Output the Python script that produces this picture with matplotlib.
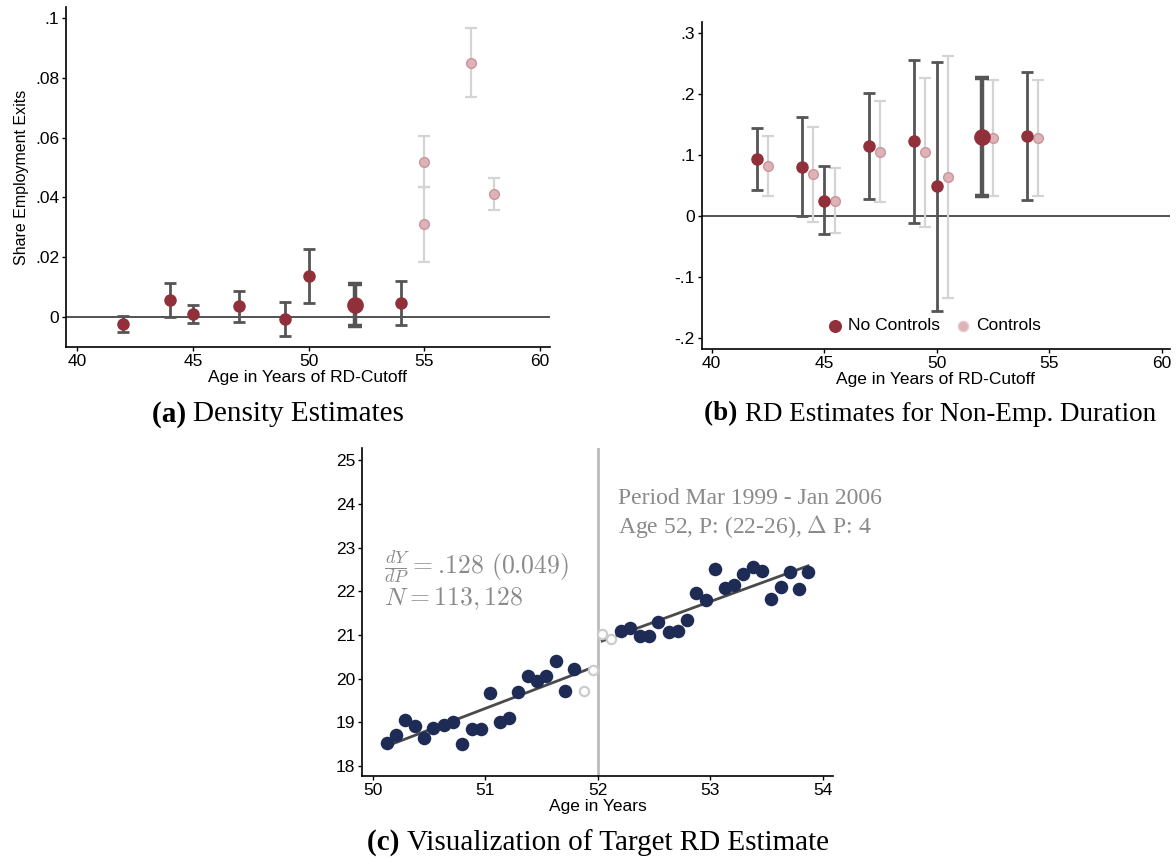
import numpy as np
import matplotlib
matplotlib.use('Agg')
import matplotlib.pyplot as plt

plt.rcParams['font.family'] = ['Liberation Sans', 'DejaVu Sans']
plt.rcParams['mathtext.fontset'] = 'cm'

# panel (a) density estimates
a_x = [42, 44, 45, 47, 49, 50, 52, 54]
a_y = [-0.0023, 0.0057, 0.0010, 0.0036, -0.0008, 0.0137, 0.0039, 0.0046]
a_lo = [-0.0050, 0.0000, -0.0020, -0.0015, -0.0063, 0.0047, -0.0029, -0.0027]
a_hi = [0.0003, 0.0113, 0.0040, 0.0087, 0.0050, 0.0228, 0.0109, 0.0120]
a_fx = [55, 55, 57, 58]
a_fy = [0.0520, 0.0310, 0.0851, 0.0411]
a_flo = [0.0435, 0.0183, 0.0736, 0.0358]
a_fhi = [0.0605, 0.0435, 0.0967, 0.0466]
a_yticks = [0, 0.02, 0.04, 0.06, 0.08, 0.1]
a_ylabels = ['0', '.02', '.04', '.06', '.08', '.1']

# panel (b) RD estimates for non-employment duration
b_x = [42, 44, 45, 47, 49, 50, 52, 54]
b_y = [0.0925, 0.0803, 0.0246, 0.114, 0.1225, 0.048, 0.129, 0.1307]
b_lo = [0.0416, -0.0005, -0.030, 0.027, -0.0115, -0.156, 0.0328, 0.0257]
b_hi = [0.144, 0.162, 0.0815, 0.2007, 0.255, 0.2525, 0.226, 0.2356]
b_cx = [42.5, 44.5, 45.5, 47.5, 49.5, 50.5, 52.5, 54.5]
b_cy = [0.0815, 0.068, 0.0246, 0.105, 0.104, 0.063, 0.128, 0.128]
b_clo = [0.032, -0.0098, -0.028, 0.0225, -0.018, -0.1355, 0.033, 0.0328]
b_chi = [0.130, 0.146, 0.078, 0.188, 0.2257, 0.261, 0.222, 0.223]
b_yticks = [-0.2, -0.1, 0, 0.1, 0.2, 0.3]
b_ylabels = ['-.2', '-.1', '0', '.1', '.2', '.3']

x_ticks_ab = [40, 45, 50, 55, 60]
target_age = 52

# panel (c) binned scatter around the cutoff
c_lx = [50.13, 50.21, 50.29, 50.38, 50.46, 50.54, 50.63, 50.71, 50.79, 50.88, 50.96,
        51.04, 51.13, 51.21, 51.29, 51.38, 51.46, 51.54, 51.63, 51.71, 51.79]
c_ly = [18.53, 18.70, 19.06, 18.91, 18.65, 18.87, 18.93, 19.00, 18.51, 18.84, 18.85,
        19.68, 19.00, 19.10, 19.69, 20.05, 19.94, 20.05, 20.41, 19.71, 20.23]
c_hx = [51.88, 51.96, 52.04, 52.12]
c_hy = [19.72, 20.19, 21.01, 20.91]
c_rx = [52.21, 52.29, 52.38, 52.46, 52.54, 52.63, 52.71, 52.79, 52.87, 52.96, 53.04,
        53.13, 53.21, 53.29, 53.38, 53.46, 53.54, 53.63, 53.71, 53.79, 53.87]
c_ry = [21.08, 21.16, 20.97, 20.97, 21.30, 21.06, 21.08, 21.33, 21.96, 21.80, 22.51,
        22.08, 22.15, 22.40, 22.55, 22.46, 21.82, 22.10, 22.45, 22.06, 22.44]
fit_lx = [50.15, 51.96]
fit_ly = [18.48, 20.26]
fit_rx = [52.04, 53.87]
fit_ry = [20.86, 22.58]

RED = '#912F3A'
DARK = '#555555'
PINK = '#DDB3B8'
LIGHT = '#D4D4D4'
NAVY = '#1E2B55'
TXT = '#8A8A8A'
SERIF = ['Liberation Serif', 'DejaVu Serif']


def style_axes(ax):
    for s in ['top', 'right']:
        ax.spines[s].set_visible(False)
    for s in ['left', 'bottom']:
        ax.spines[s].set_linewidth(1.2)
    ax.tick_params(direction='out', length=3, width=1, labelsize=12.5, pad=2)


def draw_bars(ax, x, y, lo, hi, color, ecolor, ms, lw, cap, mec=None):
    y = np.array(y)
    yerr = [y - np.array(lo), np.array(hi) - y]
    return ax.errorbar(x, y, yerr=yerr, fmt='o', color=color, ecolor=ecolor,
                       elinewidth=lw, capsize=cap, capthick=lw, ms=ms,
                       mec=mec if mec else color, zorder=3)


def draw_panel(ax, x, y, lo, hi):
    small = [i for i, v in enumerate(x) if v != target_age]
    big = [i for i, v in enumerate(x) if v == target_age]
    draw_bars(ax, [x[i] for i in small], [y[i] for i in small],
              [lo[i] for i in small], [hi[i] for i in small], RED, DARK, 8, 2.0, 4.5)
    draw_bars(ax, [x[i] for i in big], [y[i] for i in big],
              [lo[i] for i in big], [hi[i] for i in big], RED, DARK, 11, 3.2, 5)


fig = plt.figure(figsize=(11.76, 8.61), dpi=100)

# (a)
ax1 = fig.add_axes([0.0561, 0.5970, 0.4116, 0.3949])
style_axes(ax1)
ax1.axhline(0, color='#444444', lw=1.3, zorder=1)
draw_bars(ax1, a_fx, a_fy, a_flo, a_fhi, PINK, LIGHT, 7, 1.6, 4, mec='#C9959B')
draw_panel(ax1, a_x, a_y, a_lo, a_hi)
ax1.set_xlim(39.52, 60.43)
ax1.set_ylim(-0.01, 0.1037)
ax1.set_xticks(x_ticks_ab)
ax1.set_yticks(a_yticks)
ax1.set_yticklabels(a_ylabels)
ax1.set_xlabel('Age in Years of RD-Cutoff', fontsize=12.5, labelpad=1)
ax1.set_ylabel('Share Employment Exits', fontsize=11.5, labelpad=4)

# (b)
ax2 = fig.add_axes([0.5967, 0.5950, 0.3982, 0.3798])
style_axes(ax2)
ax2.axhline(0, color='#444444', lw=1.3, zorder=1)
draw_bars(ax2, b_cx, b_cy, b_clo, b_chi, PINK, LIGHT, 7, 1.6, 4, mec='#C9959B')
draw_panel(ax2, b_x, b_y, b_lo, b_hi)
ax2.set_xlim(39.56, 60.37)
ax2.set_ylim(-0.218, 0.318)
ax2.set_xticks(x_ticks_ab)
ax2.set_yticks(b_yticks)
ax2.set_yticklabels(b_ylabels)
ax2.set_xlabel('Age in Years of RD-Cutoff', fontsize=12.5, labelpad=1)
h1 = ax2.scatter([], [], s=70, color=RED)
h2 = ax2.scatter([], [], s=55, color=PINK, edgecolor='#E8CCCF')
ax2.legend([h1, h2], ['No Controls', 'Controls'], loc='lower center',
           bbox_to_anchor=(0.49, 0.0), ncol=2, frameon=False, fontsize=12.5,
           handletextpad=0.0, columnspacing=0.6, handlelength=1.5)

# (c)
ax3 = fig.add_axes([0.3081, 0.0987, 0.4005, 0.3806])
style_axes(ax3)
ax3.axvline(target_age, color='#BBBBBB', lw=2, zorder=1)
ax3.plot(fit_lx, fit_ly, color='#4A4A4A', lw=2, zorder=2)
ax3.plot(fit_rx, fit_ry, color='#4A4A4A', lw=2, zorder=2)
ax3.scatter(c_lx, c_ly, s=95, color=NAVY, zorder=3, linewidths=0)
ax3.scatter(c_rx, c_ry, s=95, color=NAVY, zorder=3, linewidths=0)
ax3.scatter(c_hx, c_hy, s=45, facecolor='white', edgecolor='#CCCCCC',
            linewidths=1.6, zorder=3)
ax3.set_xlim(49.908, 54.094)
ax3.set_ylim(17.77, 25.27)
ax3.set_xticks([50, 51, 52, 53, 54])
ax3.set_yticks([18, 19, 20, 21, 22, 23, 24, 25])
ax3.set_xlabel('Age in Years', fontsize=12.5, labelpad=1)
ax3.text(0.045, 0.636, r'$\frac{dY}{dP} = .\!128\ (0.049)$', transform=ax3.transAxes,
         color=TXT, fontsize=18.5, va='center')
ax3.text(0.045, 0.540, r'$N = 113,128$', transform=ax3.transAxes,
         color=TXT, fontsize=18.5, va='center')
ax3.text(0.543, 0.848, 'Period Mar 1999 - Jan 2006', transform=ax3.transAxes,
         color=TXT, fontsize=17, va='center', family=SERIF)
ax3.text(0.543, 0.762, r'Age 52, P: (22-26), $\Delta$ P: 4', transform=ax3.transAxes,
         color=TXT, fontsize=17, va='center', family=SERIF)


# captions: bold tag followed by plain label, centred as a whole
def caption(xc, ypx, tag, label, size):
    y = 1 - ypx / 861
    r = fig.canvas.get_renderer()
    t1 = fig.text(0, y, tag + ' ', fontsize=size, fontweight='bold', family=SERIF,
                  ha='left', va='center')
    t2 = fig.text(0, y, label, fontsize=size, family=SERIF, ha='left', va='center')
    w1 = t1.get_window_extent(r).width / 1176
    w2 = t2.get_window_extent(r).width / 1176
    x0 = xc / 1176 - (w1 + w2) / 2
    t1.set_x(x0)
    t2.set_x(x0 + w1)

caption(278, 414, '(a)', 'Density Estimates', 21)
caption(930, 414, '(b)', 'RD Estimates for Non-Emp. Duration', 19.5)
caption(598, 843, '(c)', 'Visualization of Target RD Estimate', 21)

plt.savefig('out.png', dpi=100)
